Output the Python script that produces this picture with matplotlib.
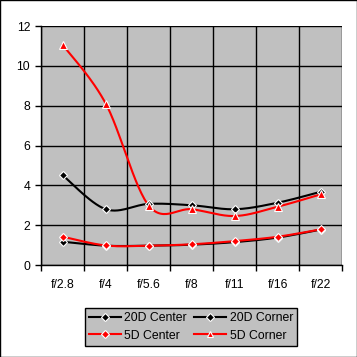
import numpy as np
import matplotlib.pyplot as plt
from matplotlib.lines import Line2D

plt.rcParams['font.family'] = ['Liberation Sans', 'DejaVu Sans']

stops = ['f/2.8', 'f/4', 'f/5.6', 'f/8', 'f/11', 'f/16', 'f/22']
d20_center = [1.17, 0.97, 0.97, 1.02, 1.15, 1.38, 1.78]
d20_corner = [4.5, 2.8, 3.07, 3.0, 2.8, 3.13, 3.68]
d5_center = [1.42, 0.98, 0.97, 1.04, 1.2, 1.42, 1.79]
d5_corner = [11.05, 8.1, 2.98, 2.8, 2.46, 2.93, 3.55]


def smooth(xs, ys, n=30):
    # excel style smoothing (catmull-rom bezier)
    xs = np.asarray(xs, float)
    ys = np.asarray(ys, float)
    pts = np.column_stack([xs, ys])
    p = np.vstack([pts[0], pts, pts[-1]])
    out = []
    t = np.linspace(0, 1, n)[:, None]
    for i in range(1, len(p) - 2):
        p0, p1, p2, p3 = p[i - 1], p[i], p[i + 1], p[i + 2]
        c1 = p1 + (p2 - p0) / 6
        c2 = p2 - (p3 - p1) / 6
        seg = ((1 - t) ** 3) * p1 + 3 * ((1 - t) ** 2) * t * c1 + 3 * (1 - t) * t ** 2 * c2 + t ** 3 * p2
        out.append(seg if i == 1 else seg[1:])
    out = np.vstack(out)
    return out[:, 0], out[:, 1]


fig = plt.figure(figsize=(3.57, 3.57), dpi=100)
ax = fig.add_axes([0.1157, 0.2577, 0.8433, 0.6693])
ax.set_facecolor('#c0c0c0')

x = np.arange(len(stops))
series = [
    (d20_center, 'black', 'D', 'black', '20D Center'),
    (d20_corner, 'black', 'D', 'black', '20D Corner'),
    (d5_center, 'red', 'D', 'red', '5D Center'),
    (d5_corner, 'red', '^', 'red', '5D Corner'),
]
handles = {}
for vals, col, mk, fc, lab in series:
    sx, sy = smooth(x, vals)
    ax.plot(sx, sy, color=col, lw=1.5, zorder=3)
    ax.plot(x, vals, ls='none', marker=mk, ms=4.5 if mk == 'D' else 5.5,
            mfc=fc, mec='white', mew=0.8, zorder=4)
    handles[lab] = Line2D([], [], color=col, lw=1.5, marker=mk,
                          ms=4 if mk == 'D' else 5, mfc=fc, mec='white', mew=0.8, label=lab)

ax.set_xlim(-0.5, len(stops) - 0.5)
ax.set_ylim(0, 12)
ax.set_yticks(range(0, 13, 2))
ax.set_xticks(x)
ax.set_xticklabels(stops)
ax.set_xticks(np.arange(-0.5, len(stops)), minor=True)
ax.tick_params(axis='x', which='major', length=0, labelsize=8.8, pad=10)
ax.tick_params(axis='x', which='minor', length=4, width=1, color='black', direction='out')
ax.tick_params(axis='y', length=4, width=1, labelsize=8.8, direction='out', pad=4)
ax.grid(axis='y', color='black', lw=1)
ax.grid(axis='x', which='minor', color='black', lw=1)
ax.set_axisbelow(True)
for s in ['top', 'right']:
    ax.spines[s].set_visible(False)
for s in ['left', 'bottom']:
    ax.spines[s].set_linewidth(1)

order = ['20D Center', '5D Center', '20D Corner', '5D Corner']
leg = fig.legend(handles=[handles[k] for k in order], ncol=2, loc='center',
                 bbox_to_anchor=(0.535, 0.084),
                 fontsize=8.8, frameon=True, fancybox=False, handlelength=2.6,
                 columnspacing=0.6, handletextpad=0.3, borderpad=0.35, labelspacing=0.45)
leg.get_frame().set_facecolor('#c0c0c0')
leg.get_frame().set_edgecolor('black')
leg.get_frame().set_alpha(1)

fig.patches.append(plt.Rectangle((0.0014, 0.0014), 0.9972, 0.9972, transform=fig.transFigure,
                                 fill=False, edgecolor='black', lw=1))

fig.savefig('out.png', dpi=100)
